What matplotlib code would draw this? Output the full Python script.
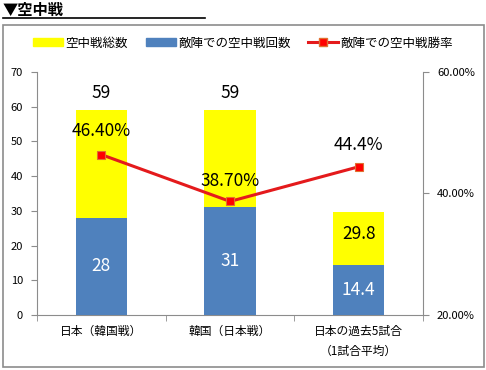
import matplotlib
matplotlib.use("Agg")
import matplotlib.pyplot as plt
from matplotlib.patches import Rectangle
from matplotlib.lines import Line2D
from matplotlib.ticker import FuncFormatter, MultipleLocator, FixedLocator

plt.rcParams['font.family'] = ['Noto Sans CJK JP', 'DejaVu Sans']

categories = ['日本（韓国戦）', '韓国（日本戦）', '日本の過去5試合\n（1試合平均）']
total_duels = [59, 59, 29.8]
attack_duels = [28, 31, 14.4]
win_rate = [0.464, 0.387, 0.444]
total_labels = ['59', '59', '29.8']
attack_labels = ['28', '31', '14.4']
rate_labels = ['46.40%', '38.70%', '44.4%']
legend_labels = ['空中戦総数', '敵陣での空中戦回数', '敵陣での空中戦勝率']
title = '▼空中戦'

W, H = 486, 370
fig = plt.figure(figsize=(W / 100, H / 100), dpi=100)

# outer frame and title
fig.patches.append(Rectangle((3 / W, 1 - 367 / H), 481 / W, 342 / H, transform=fig.transFigure,
                             fill=False, edgecolor='#8c8c8c', linewidth=1.2))
fig.text(3 / W, 1 - 10 / H, title, fontsize=11, fontweight='bold', va='center', ha='left')
fig.lines.append(Line2D([3 / W, 205 / W], [1 - 18 / H, 1 - 18 / H], transform=fig.transFigure,
                        color='black', linewidth=1.2))

ax = fig.add_axes([37 / W, 1 - 315 / H, (423 - 37) / W, (315 - 72) / H])
x = list(range(len(categories)))
bw = 0.4
ax.bar(x, total_duels, width=bw, color='#ffff00', zorder=2)
ax.bar(x, attack_duels, width=bw, color='#4f81bd', zorder=3)
ax.set_xlim(-0.5, 2.5)
ax.set_ylim(0, 70)
ax.yaxis.set_major_locator(MultipleLocator(10))
ax.set_xticks(x)
ax.set_xticklabels(categories, fontsize=8.5, linespacing=1.7, va='top')
ax.xaxis.set_minor_locator(FixedLocator([-0.5, 0.5, 1.5, 2.5]))
ax.tick_params(axis='x', which='major', length=0, pad=7)
ax.tick_params(axis='x', which='minor', length=4, color='#8c8c8c', direction='out')
ax.tick_params(axis='y', length=4, color='#8c8c8c', labelsize=8, pad=6)
for s in ['top', 'right']:
    ax.spines[s].set_visible(False)
for s in ['left', 'bottom']:
    ax.spines[s].set_color('#8c8c8c')

# bar labels
for i in range(3):
    ax.text(x[i], attack_duels[i] / 2, attack_labels[i], color='white', fontsize=12.5,
            ha='center', va='center', zorder=5)
ax.text(x[0], total_duels[0] + 5, total_labels[0], fontsize=12.5, ha='center', va='center', zorder=5)
ax.text(x[1], total_duels[1] + 5, total_labels[1], fontsize=12.5, ha='center', va='center', zorder=5)
ax.text(x[2], (total_duels[2] + attack_duels[2]) / 2 + 1.2, total_labels[2], fontsize=12.5,
        ha='center', va='center', zorder=5)

ax2 = ax.twinx()
ax2.plot(x, win_rate, color='#e41a1c', linewidth=2.2, marker='s', markersize=6,
         markerfacecolor='#ff0000', markeredgecolor='#e07030', markeredgewidth=0.8, zorder=6)
ax2.set_ylim(0.2, 0.6)
ax2.set_yticks([0.2, 0.4, 0.6])
ax2.yaxis.set_major_formatter(FuncFormatter(lambda v, p: f'{v * 100:.2f}%'))
ax2.tick_params(axis='y', length=4, color='#8c8c8c', labelsize=8, pad=6)
for s in ['top', 'left', 'bottom']:
    ax2.spines[s].set_visible(False)
ax2.spines['right'].set_color('#8c8c8c')
rate_off = [0.039, 0.034, 0.036]
for i in range(3):
    ax2.text(x[i], win_rate[i] + rate_off[i], rate_labels[i], fontsize=12.5, ha='center',
             va='center', zorder=7)

# legend
handles = [Rectangle((0, 0), 1, 1, color='#ffff00'),
           Rectangle((0, 0), 1, 1, color='#4f81bd'),
           Line2D([0], [0], color='#e41a1c', linewidth=2.2, marker='s', markersize=6,
                  markerfacecolor='#ff0000', markeredgecolor='#e07030')]
fig.legend(handles, legend_labels, loc='center', bbox_to_anchor=(243 / W, 1 - 43 / H), ncol=3,
           frameon=False, fontsize=9, handlelength=2.4, handleheight=0.6, handletextpad=0.2,
           columnspacing=1.4)

fig.savefig('out.png', dpi=100)
